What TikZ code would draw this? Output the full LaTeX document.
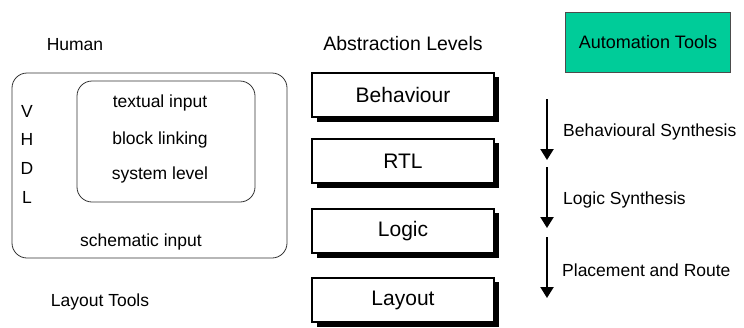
\documentclass[tikz,border=0pt]{standalone}
\usepackage{fontspec}
\setmainfont{Liberation Sans}
\usetikzlibrary{arrows.meta}
\definecolor{autogreen}{HTML}{00CC99}
\begin{document}
\begin{tikzpicture}[x=1pt,y=-1pt,
  label/.style={inner sep=0pt, font=\fontsize{17.5}{20}\selectfont},
  levelbox/.style={draw, line width=1.5pt, fill=white, minimum width=182pt, minimum height=44pt,
    inner sep=0pt, font=\fontsize{21}{24}\selectfont},
  shade/.style={fill=black},
  flow/.style={line width=2.2pt, -{Triangle[width=13pt,length=11pt]}},
  region/.style={draw=black!80, line width=0.8pt, rounded corners=15pt}]
\useasboundingbox (0,0) rectangle (744,327);

% column headings
\node[label] (human) at (75,45) {Human};
\node[label, font=\fontsize{19.5}{22}\selectfont] (abstr) at (403,44) {Abstraction Levels};
\node[draw=black!70, line width=0.8pt, fill=autogreen, minimum width=165pt, minimum height=60pt,
  inner sep=0pt, font=\fontsize{18}{20}\selectfont] (auto) at (648,42) {Automation Tools};

% human design entry
\draw[region] (12,73) rectangle (287,258);
\draw[region] (77,81) rectangle (255,202);
\node[label] (t1) at (160,103) {textual input};
\node[label] (t2) at (160,140) {block linking};
\node[label] (t3) at (160,175) {system level};
\node[label] (v) at (27,111) {V};
\node[label] (h) at (27,139) {H};
\node[label] (d) at (27,168) {D};
\node[label] (l) at (27,197) {L};
\node[label] (schem) at (141,242) {schematic input};
\node[label] (ltools) at (100,302) {Layout Tools};

% abstraction levels with drop shadows
\foreach \nm/\txt/\yc in {beh/Behaviour/95, rtl/RTL/161, logic/Logic/231, layout/Layout/300}{
  \fill[shade] (317,\yc-18) rectangle (499,\yc+27);
  \node[levelbox] (\nm) at (403,\yc) {\txt};
}

% synthesis steps
\coordinate (a1s) at (547,99);  \coordinate (a1e) at (547,160);
\coordinate (a2s) at (547,167); \coordinate (a2e) at (547,228);
\coordinate (a3s) at (547,237); \coordinate (a3e) at (547,298);
\draw[flow] (a1s) -- (a1e);
\draw[flow] (a2s) -- (a2e);
\draw[flow] (a3s) -- (a3e);
\node[label, anchor=west] (bs) at (563,132) {Behavioural Synthesis};
\node[label, anchor=west] (ls) at (563,200) {Logic Synthesis};
\node[label, anchor=west] (pr) at (562,270) {Placement and Route};
\end{tikzpicture}
\end{document}
